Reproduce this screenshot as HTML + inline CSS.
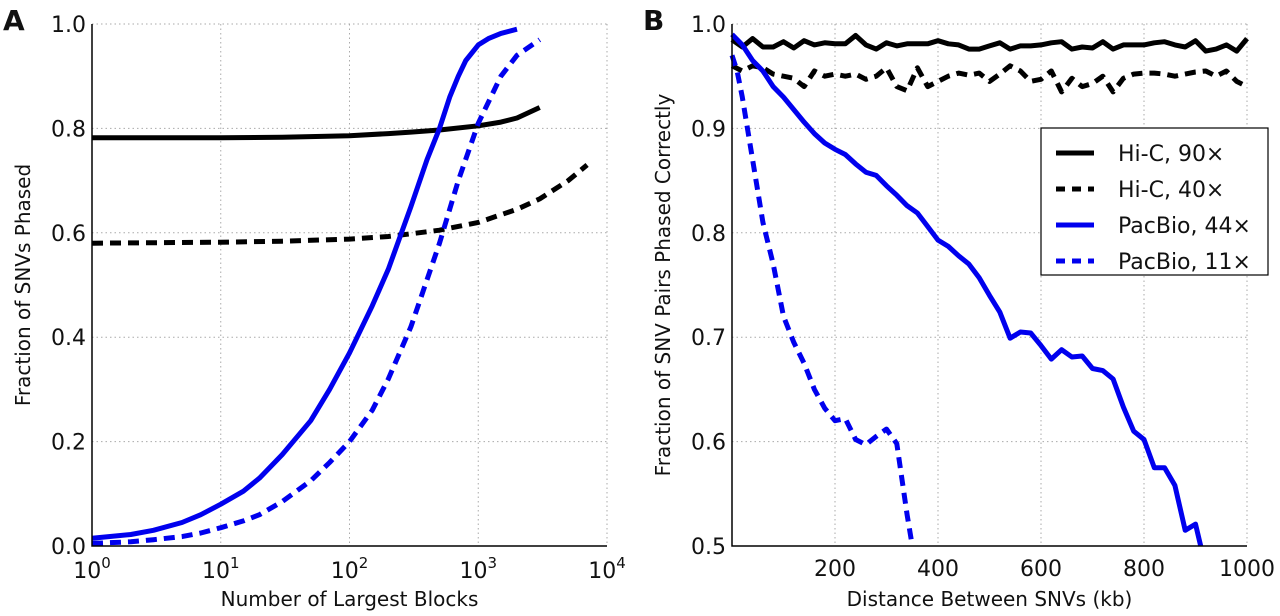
<!DOCTYPE html>
<html><head><meta charset="utf-8"><style>
body{margin:0;background:#fff;}
svg{display:block;font-family:"DejaVu Sans","Liberation Sans",sans-serif;}
</style></head><body>
<svg id="c" width="1280" height="616"></svg>
<script>
// Panel A data
const aX90=[1,10,30,100,200,300,500,1000,1500,2000,3000];
const aY90=[0.782,0.782,0.783,0.786,0.79,0.793,0.797,0.805,0.812,0.82,0.84];
const aX40=[1,10,30,100,200,300,500,1000,2000,3000,5000,7000];
const aY40=[0.58,0.582,0.584,0.588,0.593,0.598,0.605,0.62,0.645,0.665,0.7,0.73];
const aX44=[1,2,3,5,7,10,15,20,30,50,70,100,150,200,300,400,500,600,700,800,1000,1200,1500,2000];
const aY44=[0.015,0.022,0.03,0.045,0.06,0.08,0.105,0.13,0.175,0.24,0.3,0.37,0.46,0.53,0.65,0.74,0.8,0.86,0.9,0.93,0.96,0.972,0.982,0.99];
const aX11=[1,2,3,5,7,10,15,20,30,50,70,100,150,200,300,400,500,700,1000,1500,2000,3000];
const aY11=[0.005,0.008,0.012,0.018,0.025,0.035,0.048,0.06,0.085,0.125,0.16,0.2,0.26,0.32,0.42,0.51,0.58,0.7,0.81,0.9,0.94,0.97];
const aXTicks=[0,1,2,3,4];
const aYTicks=[0,0.2,0.4,0.6,0.8,1.0];
// Panel B data
const bXHiC=[0,20,40,60,80,100,120,140,160,180,200,220,240,260,280,300,320,340,360,380,400,420,440,460,480,500,520,540,560,580,600,620,640,660,680,700,720,740,760,780,800,820,840,860,880,900,920,940,960,980,1000];
const bY90=[0.985,0.978,0.986,0.978,0.978,0.983,0.977,0.984,0.98,0.982,0.981,0.981,0.989,0.98,0.976,0.982,0.979,0.981,0.981,0.981,0.984,0.981,0.98,0.976,0.976,0.979,0.982,0.976,0.979,0.979,0.98,0.982,0.983,0.976,0.978,0.977,0.983,0.976,0.98,0.98,0.98,0.982,0.983,0.98,0.978,0.984,0.974,0.976,0.98,0.974,0.986];
const bY40=[0.96,0.955,0.96,0.958,0.952,0.95,0.948,0.94,0.955,0.95,0.952,0.95,0.952,0.947,0.95,0.958,0.94,0.936,0.958,0.94,0.945,0.95,0.953,0.951,0.953,0.945,0.952,0.96,0.955,0.945,0.947,0.955,0.935,0.948,0.94,0.943,0.95,0.935,0.948,0.952,0.953,0.953,0.952,0.95,0.952,0.954,0.955,0.95,0.955,0.945,0.94];
const bX44=[0,20,40,60,80,100,120,140,160,180,200,220,240,260,280,300,320,340,360,380,400,420,440,460,480,500,520,540,560,580,600,620,640,660,680,700,720,740,760,780,800,820,840,860,880,900,910];
const bY44=[0.99,0.98,0.965,0.955,0.94,0.93,0.918,0.906,0.895,0.886,0.88,0.875,0.866,0.858,0.855,0.845,0.836,0.826,0.819,0.806,0.793,0.787,0.778,0.77,0.757,0.74,0.724,0.699,0.705,0.704,0.692,0.679,0.688,0.681,0.682,0.67,0.668,0.66,0.633,0.61,0.602,0.575,0.575,0.558,0.515,0.521,0.5];
const bX11=[0,10,20,40,60,80,100,120,140,160,180,200,220,240,260,280,300,320,340,350];
const bY11=[0.97,0.955,0.93,0.87,0.81,0.77,0.72,0.695,0.675,0.65,0.632,0.62,0.622,0.602,0.597,0.605,0.612,0.598,0.53,0.5];
const bXTicks=[200,400,600,800,1000];
const bYTicks=[0.5,0.6,0.7,0.8,0.9,1.0];
const legendLabels=["Hi-C, 90×","Hi-C, 40×","PacBio, 44×","PacBio, 11×"];

const NS="http://www.w3.org/2000/svg";
const svg=document.getElementById('c');
function mk(tag,attrs,parent){const e=document.createElementNS(NS,tag);for(const k in attrs)e.setAttribute(k,attrs[k]);(parent||svg).appendChild(e);return e;}
const T=24,B=546;
const aL=92,aR=607,bL=732,bR=1247;
const axA=v=>aL+(Math.log10(v))/4*(aR-aL);
const ayA=v=>B-v*(B-T);
const axB=v=>bL+v/1000*(bR-bL);
const ayB=v=>B-(v-0.5)/0.5*(B-T);

function grid(x1,y1,x2,y2,name){const l=mk('line',{x1,y1,x2,y2,stroke:'#aaa','stroke-width':1,'stroke-dasharray':'1.5,3'});}
function txt(x,y,s,o,name){const t=mk('text',Object.assign({x,y,fill:'#111','font-size':22,'text-anchor':'middle'},o||{}));t.textContent=s;return t;}
function line(xs,ys,fx,fy,color,dash,name){let d='';xs.forEach((x,i)=>{d+=(i?'L':'M')+fx(x).toFixed(1)+','+fy(ys[i]).toFixed(1);});const p=mk('path',{d,fill:'none',stroke:color,'stroke-width':5,'stroke-linejoin':'round'});if(dash)p.setAttribute('stroke-dasharray',dash);}

// Panel A
aXTicks.forEach(e=>{const x=axA(Math.pow(10,e));grid(x,T,x,B,'a-x-grid');const t=txt(x,B+32,'10',{},'a-x-tick-label');const s=document.createElementNS(NS,'tspan');s.setAttribute('dy','-10');s.setAttribute('font-size','15');s.textContent=e;t.appendChild(s);});
aYTicks.forEach(v=>{const y=ayA(v);grid(aL,y,aR,y,'a-y-grid');txt(aL-6,y+8,v.toFixed(1),{'text-anchor':'end'},'a-y-tick-label');});
line(aX90,aY90,axA,ayA,'#000',null,'a-hic-90x-line');
line(aX40,aY40,axA,ayA,'#000','11,7','a-hic-40x-line');
line(aX44,aY44,axA,ayA,'#0000ee',null,'a-pacbio-44x-line');
line(aX11,aY11,axA,ayA,'#0000ee','11,7','a-pacbio-11x-line');
mk('path',{d:`M${aL},${T}V${B}H${aR}`,fill:'none',stroke:'#000','stroke-width':1.5});
txt((aL+aR)/2,606,'Number of Largest Blocks',{'font-size':20},'a-x-axis-title');
txt(0,0,'Fraction of SNVs Phased',{'font-size':20,transform:`translate(30,${(T+B)/2}) rotate(-90)`},'a-y-axis-title');
txt(3,30,'A',{'font-size':28,'font-weight':'bold','text-anchor':'start'},'panel-a-label');

// Panel B
bXTicks.forEach(v=>{const x=axB(v);grid(x,T,x,B,'b-x-grid');txt(x,B+30,String(v),{},'b-x-tick-label');});
bYTicks.forEach(v=>{const y=ayB(v);grid(bL,y,bR,y,'b-y-grid');txt(bL-6,y+8,v.toFixed(1),{'text-anchor':'end'},'b-y-tick-label');});
line(bXHiC,bY90,axB,ayB,'#000',null,'b-hic-90x-line');
line(bXHiC,bY40,axB,ayB,'#000','11,7','b-hic-40x-line');
line(bX44,bY44,axB,ayB,'#0000ee',null,'b-pacbio-44x-line');
line(bX11,bY11,axB,ayB,'#0000ee','11,7','b-pacbio-11x-line');
mk('path',{d:`M${bL},${T}V${B}H${bR}`,fill:'none',stroke:'#000','stroke-width':1.5});
txt((bL+bR)/2,606,'Distance Between SNVs (kb)',{'font-size':20},'b-x-axis-title');
txt(0,0,'Fraction of SNV Pairs Phased Correctly',{'font-size':20,transform:`translate(670,${(T+B)/2}) rotate(-90)`},'b-y-axis-title');
txt(643,30,'B',{'font-size':28,'font-weight':'bold','text-anchor':'start'},'panel-b-label');

// Legend
const lg=mk('g',{});


mk('rect',{x:1041,y:128,width:227,height:147,fill:'#fff',stroke:'#000','stroke-width':1.2},lg);
const lc=['#000','#000','#0000ee','#0000ee'],ld=[null,'9,7',null,'9,7'];
legendLabels.forEach((s,i)=>{const y=153+i*36;const l=mk('line',{x1:1056,y1:y,x2:1094,y2:y,stroke:lc[i],'stroke-width':5},lg);if(ld[i])l.setAttribute('stroke-dasharray',ld[i]);const t=txt(1118,y+8,s,{'text-anchor':'start'},'legend-entry');lg.appendChild(t);});
</script>
</body></html>
